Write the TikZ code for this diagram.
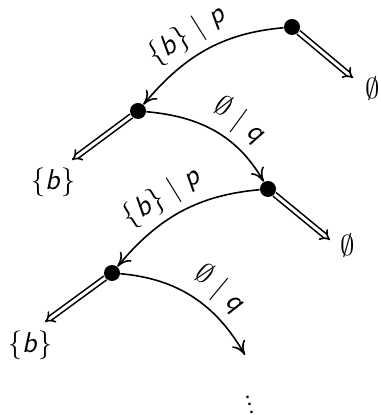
\documentclass[tikz,border=0pt]{standalone}
\usepackage{fontspec}
\usepackage{tikz}
\usetikzlibrary{arrows.meta,positioning}
\newcommand{\sv}[1]{\textit{#1}}
\begin{document}
\begin{tikzpicture}[
  x=0.5pt,y=-0.5pt,
  st/.style={circle,fill=black,inner sep=0pt,minimum size=8pt},
  lab/.style={font=\Large\sffamily},
  tr/.style={-{To[length=2.4mm,width=2.6mm]},line width=0.8pt},
  emit/.style={double,double distance=1.5pt,line width=0.8pt,-{Implies[length=2.6mm]}}
]
\useasboundingbox (0,0) rectangle (380,415);
\node[st] (s0) at (292,27) {};
\node[st] (s1) at (138,111) {};
\node[st] (s2) at (268,189) {};
\node[st] (s3) at (112,273) {};
\coordinate (o0) at (353,78);
\coordinate (o1) at (72,160);
\coordinate (o2) at (330,240);
\coordinate (o3) at (45,322);
\coordinate (e3) at (245,355);
\node[lab] (v0) at (373,89) {$\emptyset$};
\node[lab] (v1) at (53,182) {\{\sv{b}\}};
\node[lab] (v2) at (348,246) {$\emptyset$};
\node[lab] (v3) at (30,345) {\{\sv{b}\}};
\node[lab,rotate=15] (more) at (248,399) {$\vdots$};

\draw[emit] (s0)--(o0);
\draw[emit] (s1)--(o1);
\draw[emit] (s2)--(o2);
\draw[emit] (s3)--(o3);
\draw[tr] (s0) to[out=185,in=50] node[lab,pos=0.55,sloped,above] {\{\sv{b}\} | \sv{p}} (s1);
\draw[tr] (s1) to[out=-5,in=120] node[lab,pos=0.6,sloped,above] {$\emptyset$ | \sv{q}} (s2);
\draw[tr] (s2) to[out=185,in=50] node[lab,pos=0.55,sloped,above] {\{\sv{b}\} | \sv{p}} (s3);
\draw[tr] (s3) to[out=-5,in=120] node[lab,pos=0.6,sloped,above] {$\emptyset$ | \sv{q}} (e3);
\end{tikzpicture}
\end{document}
